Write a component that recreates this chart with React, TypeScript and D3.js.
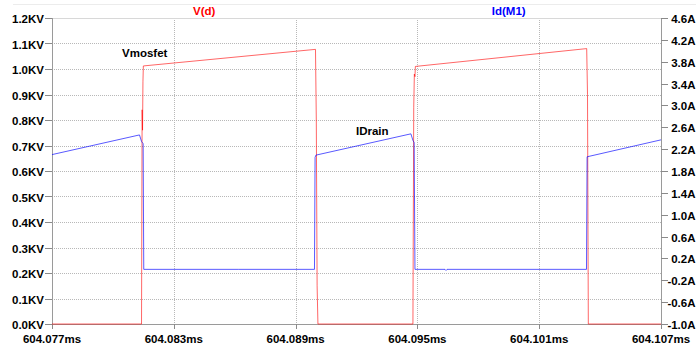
import React from 'react';
import * as d3 from 'd3';

// time axis (ms)
const timeTicks = [604.077, 604.083, 604.089, 604.095, 604.101, 604.107];
const voltTicks = [0, 0.1, 0.2, 0.3, 0.4, 0.5, 0.6, 0.7, 0.8, 0.9, 1.0, 1.1, 1.2];
const ampTicks = [-1.0, -0.6, -0.2, 0.2, 0.6, 1.0, 1.4, 1.8, 2.2, 2.6, 3.0, 3.4, 3.8, 4.2, 4.6];

// V(d) trace, KV
const vdTime = [
  604.077, 604.08141, 604.08144, 604.08146, 604.08148, 604.0815,
  604.08998, 604.09002, 604.09006, 604.0901,
  604.09478, 604.09482, 604.09485, 604.09488, 604.0949,
  604.10334, 604.10338, 604.10342, 604.107,
];
const vdValue = [
  0, 0, 0.84, 0.76, 0.95, 1.012,
  1.077, 0.8, 0.15, 0,
  0, 0.85, 0.98, 0.97, 1.01,
  1.08, 0.9, 0, 0,
];

// Id(M1) trace, A
const idTime = [
  604.077, 604.08131, 604.08141, 604.08149, 604.08152,
  604.0862, 604.08993, 604.08996, 604.09,
  604.09468, 604.09478, 604.09484, 604.09488,
  604.09636, 604.09641, 604.09646, 604.10333, 604.10336, 604.107,
];
const idValue = [
  2.1, 2.46, 2.34, 2.3, 0,
  0, 0, 2.05, 2.09,
  2.48, 2.36, 2.32, 0,
  0, -0.02, 0, 0, 2.06, 2.37,
];

const W = 696;
const H = 350;
const L = 52;
const R = 661;
const T = 18;
const B = 324;
const font = '"Liberation Sans", Arial, sans-serif';

const fmtV = (v: number) => `${v.toFixed(1)}KV`;
const fmtA = (v: number) => `${v.toFixed(1)}A`;

export default function App() {
  const x = d3.scaleLinear().domain([604.077, 604.107]).range([L, R]);
  const yV = d3.scaleLinear().domain([0, 1.2]).range([B, T]);
  const yA = d3.scaleLinear().domain([-1.0, 4.6]).range([B, T]);

  const vdLine = d3.line<number>()
    .x((_, i) => x(vdTime[i]))
    .y(d => yV(d));
  const idLine = d3.line<number>()
    .x((_, i) => x(idTime[i]))
    .y(d => yA(d));

  return (
    <svg
      width={W}
      height={H}
      style={{ position: 'absolute', left: 0, top: 0, background: '#fff' }}
      fontFamily={font}
      fontWeight="bold"
      fontSize={11.5}
    >
      <line x1={13} x2={W} y1={4.5} y2={4.5} stroke="#ececec" />

      {/* grid */}
      {voltTicks.slice(1).map(v => (
        <line key={'gv' + v} x1={L} x2={R} y1={Math.round(yV(v)) + 0.5} y2={Math.round(yV(v)) + 0.5}
          stroke="#b8b8b8" strokeDasharray="1,1" />
      ))}
      {timeTicks.slice(1, -1).map(t => (
        <line key={'gt' + t} x1={Math.round(x(t)) + 0.5} x2={Math.round(x(t)) + 0.5} y1={T} y2={B}
          stroke="#b8b8b8" strokeDasharray="1,1" />
      ))}

      {/* frame */}
      <line x1={L} x2={R} y1={T + 0.5} y2={T + 0.5} stroke="#d8d8d8" />
      <line x1={L + 0.5} x2={L + 0.5} y1={T} y2={B} stroke="#9a9a9a" />
      <line x1={R + 0.5} x2={R + 0.5} y1={T} y2={B} stroke="#9a9a9a" />
      <line x1={L} x2={R} y1={B + 0.5} y2={B + 0.5} stroke="#9a9a9a" />

      {/* left axis */}
      {voltTicks.map(v => (
        <g key={'v' + v}>
          <line x1={L - 7} x2={L} y1={Math.round(yV(v)) + 0.5} y2={Math.round(yV(v)) + 0.5} stroke="#8a8a8a" />
          <text x={L - 8} y={yV(v) + 5} textAnchor="end" fill="#000">{fmtV(v)}</text>
        </g>
      ))}

      {/* right axis */}
      {ampTicks.map(a => (
        <g key={'a' + a}>
          <line x1={R} x2={R + 7} y1={Math.round(yA(a)) + 0.5} y2={Math.round(yA(a)) + 0.5} stroke="#8a8a8a" />
          <text x={695.5} y={yA(a) + 5} textAnchor="end" fill="#000">{fmtA(a)}</text>
        </g>
      ))}

      {/* bottom axis */}
      {timeTicks.map(t => (
        <g key={'t' + t}>
          <line x1={Math.round(x(t)) + 0.5} x2={Math.round(x(t)) + 0.5} y1={B} y2={B + 5} stroke="#8a8a8a" />
          <text x={x(t)} y={342.5} textAnchor="middle" fill="#000">{t.toFixed(3)}ms</text>
        </g>
      ))}

      {/* traces */}
      <path d={vdLine(vdValue) || ''} fill="none" stroke="#ff0000" strokeOpacity={0.6} strokeWidth={1} />
      <path d={idLine(idValue) || ''} fill="none" stroke="#0000ff" strokeOpacity={0.65} strokeWidth={1} />

      {/* titles */}
      <text x={L + (R - L) / 4} y={15} textAnchor="middle" fill="#ff0000">V(d)</text>
      <text x={L + (3 * (R - L)) / 4} y={15} textAnchor="middle" fill="#0000ff">Id(M1)</text>

      {/* annotations */}
      <text x={122} y={57} fill="#000">Vmosfet</text>
      <text x={356} y={135} fill="#000">IDrain</text>
    </svg>
  );
}
